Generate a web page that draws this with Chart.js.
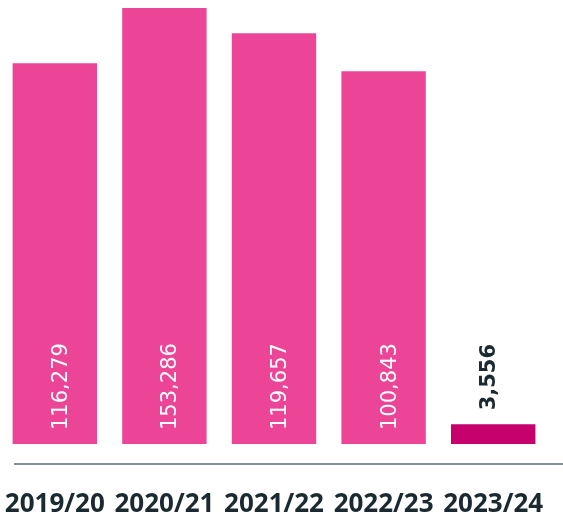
<!DOCTYPE html>
<html>
<head>
<meta charset="utf-8">
<script src="https://cdn.jsdelivr.net/npm/chart.js@4/dist/chart.umd.min.js"></script>
<style>
  html, body { margin: 0; padding: 0; background: #ffffff; }
  #wrap { width: 563px; height: 520px; position: relative; }
</style>
</head>
<body>
<div id="wrap"><canvas id="c" width="563" height="520"></canvas></div>
<script>
// Categories (x tick labels)
const categories = ['2019/20', '2020/21', '2021/22', '2022/23', '2023/24'];
// Values printed on the bars
const displayedValues = [116279, 153286, 119657, 100843, 3556];
// Bar lengths as drawn in the picture (relative units, tallest = 100)
const barLengths = [87.3, 100, 94.2, 85.5, 4.5];
// Bar colours
const barColors = ['#EC4598', '#EC4598', '#EC4598', '#EC4598', '#C6006D'];

const valueLabelPlugin = {
  id: 'valueLabels',
  afterDatasetsDraw(chart) {
    const ctx = chart.ctx;
    const meta = chart.getDatasetMeta(0);
    meta.data.forEach((bar, i) => {
      const h = bar.base - bar.y;
      const txt = displayedValues[i].toLocaleString('en-GB');
      ctx.save();
      const inside = h > 100;
      if (inside) {
        ctx.translate(bar.x + 6.5, bar.base - 14);
        ctx.font = '21px "DejaVu Sans"';
        ctx.fillStyle = '#ffffff';
      } else {
        ctx.translate(bar.x - 3.5, bar.y - 14);
        ctx.font = 'bold 21px "DejaVu Sans"';
        ctx.fillStyle = '#1b2a30';
      }
      ctx.rotate(-Math.PI / 2);
      ctx.textAlign = 'left';
      ctx.textBaseline = 'middle';
      ctx.fillText(txt, 0, 0);
      ctx.restore();
    });
  }
};

const axisLinePlugin = {
  id: 'axisLine',
  afterDraw(chart) {
    const ctx = chart.ctx;
    const y = chart.chartArea.bottom;
    ctx.save();
    ctx.strokeStyle = '#5d686b';
    ctx.lineWidth = 1.6;
    ctx.beginPath();
    ctx.moveTo(14, y);
    ctx.lineTo(chart.width, y);
    ctx.stroke();
    ctx.restore();
  }
};

new Chart(document.getElementById('c'), {
  type: 'bar',
  data: {
    labels: categories,
    datasets: [{
      data: barLengths,
      backgroundColor: barColors,
      borderWidth: 0,
      barPercentage: 0.77,
      categoryPercentage: 1.0
    }]
  },
  options: {
    responsive: false,
    animation: false,
    events: [],
    layout: { padding: { left: -8, right: 15, top: 8, bottom: 0 } },
    plugins: {
      legend: { display: false },
      tooltip: { enabled: false },
      title: { display: false }
    },
    scales: {
      x: {
        grid: { display: false, drawTicks: false },
        border: { display: false },
        afterFit(scale) {
          scale.paddingLeft = 0;
          scale.paddingRight = 0;
          scale.paddingTop = 0;
          scale.paddingBottom = 0;
          scale.height = 56;
        },
        ticks: {
          padding: 25,
          color: '#1b2a30',
          font: { family: '"Open Sans"', size: 26, weight: '700', lineHeight: 1.2 },
          maxRotation: 0,
          autoSkip: false
        }
      },
      y: {
        display: false,
        min: -4.59,
        max: 100
      }
    }
  },
  plugins: [valueLabelPlugin, axisLinePlugin]
});
</script>
</body>
</html>
